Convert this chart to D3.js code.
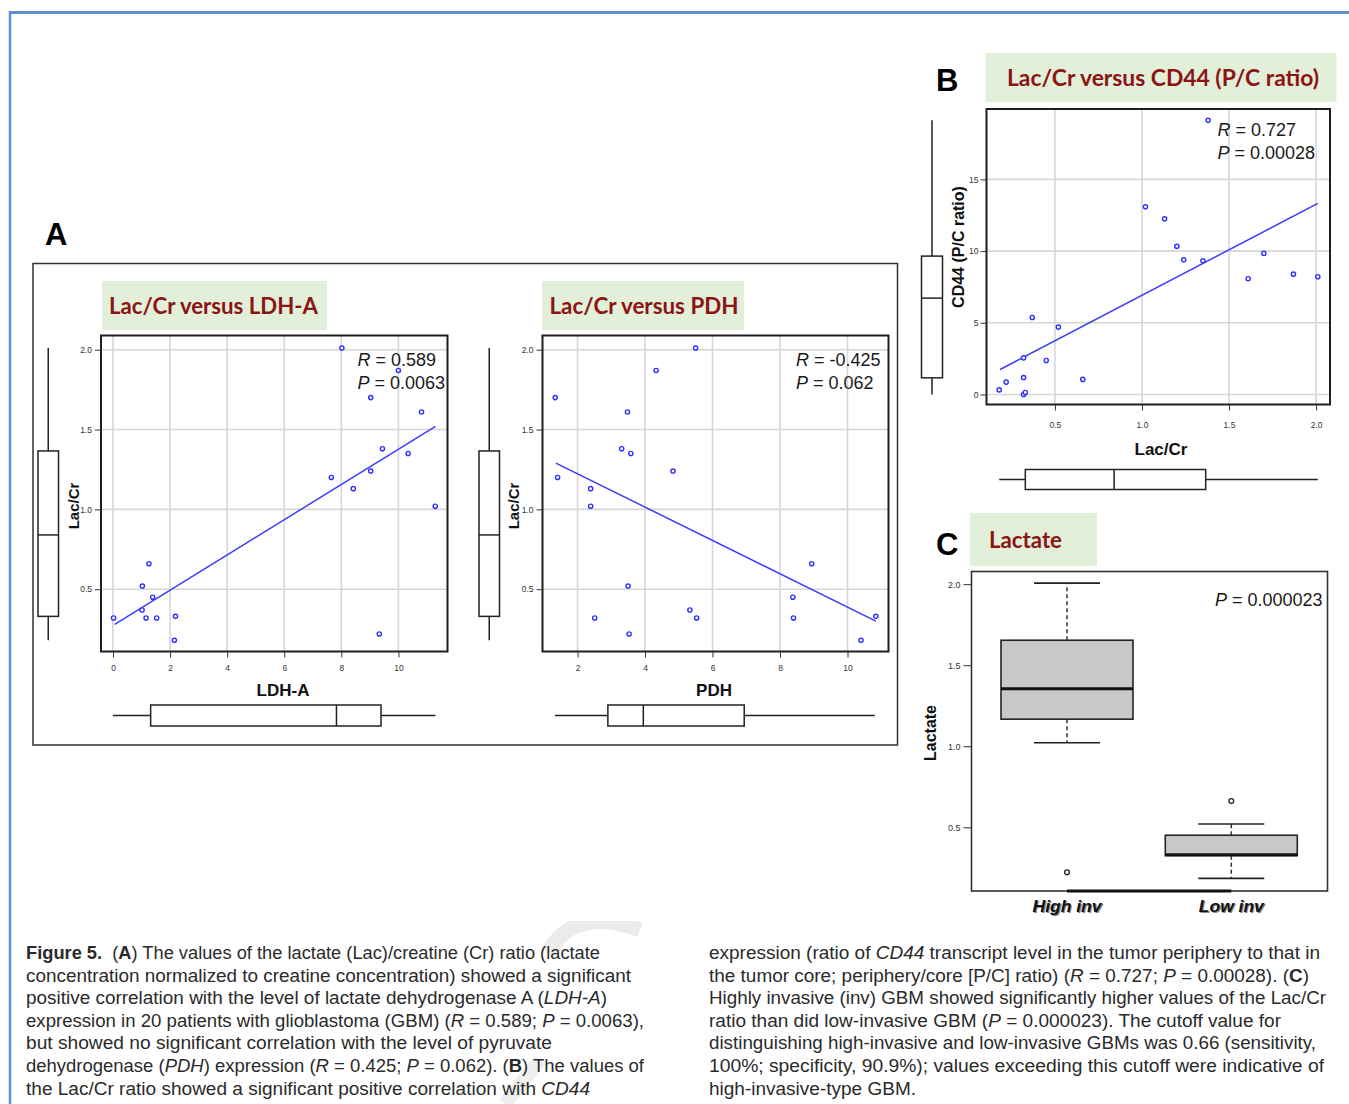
<!DOCTYPE html>
<html><head><meta charset="utf-8">
<script src="https://cdn.jsdelivr.net/npm/d3@7"></script>
<style>body{margin:0;background:#fff} svg{display:block}</style>
</head><body>
<svg id="fig" width="1349" height="1104"></svg>
<script>
// ---------- DATA ----------
// Panel A (left): Lac/Cr vs LDH-A
const ldhA   = [0.02,1.02,1.03,1.26,1.16,1.39,1.53,2.19,2.15,7.65,8.02,8.42,9.03,9.03,9.33,9.44,10.0,10.34,10.81,11.29];
const lacCrA = [0.32,0.37,0.52,0.66,0.32,0.45,0.32,0.33,0.18,1.20,2.01,1.13,1.70,1.24,0.22,1.38,1.87,1.35,1.61,1.02];
const ldhFitX = [0.06, 11.3], ldhFitY = [0.28, 1.52];
// Panel A (right): Lac/Cr vs PDH
const pdh    = [1.34,1.41,2.39,2.39,2.51,3.31,3.48,3.58,3.50,3.53,4.33,4.83,5.33,5.50,5.53,8.38,8.40,8.94,10.40,10.84];
const lacCrP = [1.70,1.20,1.13,1.02,0.32,1.38,1.61,1.35,0.52,0.22,1.87,1.24,0.37,2.01,0.32,0.45,0.32,0.66,0.18,0.33];
const pdhFitX = [1.36, 10.84], pdhFitY = [1.29, 0.30];
// Panel B: CD44 (P/C ratio) vs Lac/Cr
const lacCrB = [0.18,0.22,0.32,0.32,0.32,0.33,0.37,0.45,0.52,0.66,1.02,1.13,1.20,1.24,1.35,1.38,1.61,1.70,1.87,2.01];
const cd44   = [0.32,0.86,2.55,1.18,0.0,0.14,5.37,2.37,4.70,1.05,13.09,12.25,10.33,9.39,9.32,19.12,8.07,9.84,8.39,8.21];
const cd44FitX = [0.185, 2.01], cd44FitY = [1.74, 13.33];
// marginal box plots [min, q1, median, q3, max]
const lacCrBox = [0.18, 0.33, 0.84, 1.366, 2.01];
const ldhBox   = [0.0, 1.32, 7.83, 9.39, 11.3];
const pdhBox   = [1.33, 2.90, 3.95, 6.94, 10.81];
const cd44Box  = [0.0, 1.16, 6.72, 9.65, 19.12];
// Panel C: Lactate by invasiveness
const invGroups   = ["High inv", "Low inv"];
const invBoxes    = [[1.022, 1.167, 1.354, 1.654, 2.006], [0.185, 0.325, 0.33, 0.451, 0.52]];
const invOutliers = [[0.222], [0.662]];
// tick values
const ldhTicks = [0, 2, 4, 6, 8, 10];
const pdhTicks = [2, 4, 6, 8, 10];
const lacTicks = [0.5, 1.0, 1.5, 2.0];
const lacTicksB = [0.5, 1.0, 1.5, 2.0];
const cd44Ticks = [0, 5, 10, 15];
// caption
const capLeft = [
  "**Figure 5.**\u00a0 (**A**) The values of the lactate (Lac)/creatine (Cr) ratio (lactate",
  "concentration normalized to creatine concentration) showed a significant",
  "positive correlation with the level of lactate dehydrogenase A (_LDH-A_)",
  "expression in 20 patients with glioblastoma (GBM) (_R_ = 0.589; _P_ = 0.0063),",
  "but showed no significant correlation with the level of pyruvate",
  "dehydrogenase (_PDH_) expression (_R_ = 0.425; _P_ = 0.062). (**B**) The values of",
  "the Lac/Cr ratio showed a significant positive correlation with _CD44_"
];
const capRight = [
  "expression (ratio of _CD44_ transcript level in the tumor periphery to that in",
  "the tumor core; periphery/core [P/C] ratio) (_R_ = 0.727; _P_ = 0.00028). (**C**)",
  "Highly invasive (inv) GBM showed significantly higher values of the Lac/Cr",
  "ratio than did low-invasive GBM (_P_ = 0.000023). The cutoff value for",
  "distinguishing high-invasive and low-invasive GBMs was 0.66 (sensitivity,",
  "100%; specificity, 90.9%); values exceeding this cutoff were indicative of",
  "high-invasive-type GBM."
];
const capLeftW  = [574, 605, 581, 618, 526, 618, 564];
const capRightW = [611, 600, 617, 572, 607, 615, 207];

// ---------- DRAWING ----------
const F = "'Liberation Sans', Arial, Helvetica, sans-serif";
const TF = "Lato, 'Open Sans', sans-serif";
const svg = d3.select('#fig');
const ptColor = '#2f2fff';

// faint watermark strokes behind the caption (only visible below the figure)
svg.append('path').attr('d', 'M548,952 Q575,905 640,930').attr('fill', 'none')
  .attr('stroke', '#ebebeb').attr('stroke-width', 15);
svg.append('path').attr('d', 'M505,1104 L540,1060').attr('fill', 'none')
  .attr('stroke', '#efefef').attr('stroke-width', 14);
svg.append('rect').attr('x', 540).attr('y', 880).attr('width', 120).attr('height', 41).attr('fill', '#fff');

// blue page border
svg.append('line').attr('x1', 10).attr('x2', 1349).attr('y1', 12.5).attr('y2', 12.5).attr('stroke', '#5b8fd1').attr('stroke-width', 3);
svg.append('line').attr('x1', 10).attr('x2', 10).attr('y1', 11).attr('y2', 1104).attr('stroke', '#5b8fd1').attr('stroke-width', 2.5);

// panel A frame
svg.append('rect').attr('x', 33).attr('y', 263.5).attr('width', 864.5).attr('height', 481.5)
  .attr('fill', 'none').attr('stroke', '#333').attr('stroke-width', 1.5);

function panelLetter(t, x, y) {
  svg.append('text').attr('x', x).attr('y', y).attr('font-family', F).attr('font-weight', 'bold')
    .attr('font-size', 31).attr('fill', '#000').text(t);
}
panelLetter('A', 45, 245); panelLetter('B', 936, 91); panelLetter('C', 936, 555);

function titleBox(t, r, tx, tb, tw) {
  svg.append('rect').attr('x', r[0]).attr('y', r[1]).attr('width', r[2] - r[0]).attr('height', r[3] - r[1]).attr('fill', '#e2efd9');
  svg.append('text').attr('x', tx).attr('y', tb).attr('font-family', TF).attr('font-weight', 'bold')
    .attr('font-size', 23).attr('fill', '#8c1414').attr('textLength', tw).attr('lengthAdjust', 'spacingAndGlyphs').text(t);
}
titleBox('Lac/Cr versus LDH-A', [102, 281, 327, 330], 109, 314, 209);
titleBox('Lac/Cr versus PDH', [542, 281, 744, 330], 549.5, 314, 189);
titleBox('Lac/Cr versus CD44 (P/C ratio)', [985.5, 53, 1336.5, 102], 1007, 86, 312);
titleBox('Lactate', [970, 513, 1097, 566], 989, 548, 73);

function boxV(g, y, s, l, r) {
  const cx = (l + r) / 2;
  g.append('line').attr('x1', cx).attr('x2', cx).attr('y1', y(s[4])).attr('y2', y(s[3])).attr('stroke', '#222').attr('stroke-width', 1.5);
  g.append('line').attr('x1', cx).attr('x2', cx).attr('y1', y(s[1])).attr('y2', y(s[0])).attr('stroke', '#222').attr('stroke-width', 1.5);
  g.append('rect').attr('x', l).attr('width', r - l).attr('y', y(s[3])).attr('height', y(s[1]) - y(s[3]))
    .attr('fill', '#fff').attr('stroke', '#222').attr('stroke-width', 1.5);
  g.append('line').attr('x1', l).attr('x2', r).attr('y1', y(s[2])).attr('y2', y(s[2])).attr('stroke', '#222').attr('stroke-width', 1.5);
}
function boxH(g, x, s, t, b) {
  const cy = (t + b) / 2;
  g.append('line').attr('y1', cy).attr('y2', cy).attr('x1', x(s[0])).attr('x2', x(s[1])).attr('stroke', '#222').attr('stroke-width', 1.5);
  g.append('line').attr('y1', cy).attr('y2', cy).attr('x1', x(s[3])).attr('x2', x(s[4])).attr('stroke', '#222').attr('stroke-width', 1.5);
  g.append('rect').attr('y', t).attr('height', b - t).attr('x', x(s[1])).attr('width', x(s[3]) - x(s[1]))
    .attr('fill', '#fff').attr('stroke', '#222').attr('stroke-width', 1.5);
  g.append('line').attr('y1', t).attr('y2', b).attr('x1', x(s[2])).attr('x2', x(s[2])).attr('stroke', '#222').attr('stroke-width', 1.5);
}
function styleAxis(s, fs) {
  s.select('.domain').remove();
  s.selectAll('text').attr('font-family', F).attr('font-size', fs).attr('fill', '#333');
  s.selectAll('line').attr('stroke', '#333').attr('stroke-width', 1);
}
function statText(g, x, y, parts, anchor) {
  const t = g.append('text').attr('x', x).attr('y', y).attr('font-family', F).attr('font-size', 18).attr('fill', '#1a1a1a');
  if (anchor) t.attr('text-anchor', anchor);
  t.append('tspan').attr('font-style', 'italic').text(parts[0]);
  t.append('tspan').text(parts[1]);
}

function scatter(p) {
  const g = svg.append('g');
  const [L, T, R, B] = p.rect;
  const x = d3.scaleLinear().domain(p.xDomain).range([L, R]);
  const y = d3.scaleLinear().domain(p.yDomain).range([B, T]);
  g.selectAll(null).data(p.xTicks).join('line').attr('x1', d => x(d)).attr('x2', d => x(d)).attr('y1', T).attr('y2', B)
    .attr('stroke', '#d6d6d6').attr('stroke-width', 1.6);
  g.selectAll(null).data(p.yTicks).join('line').attr('y1', d => y(d)).attr('y2', d => y(d)).attr('x1', L).attr('x2', R)
    .attr('stroke', '#d6d6d6').attr('stroke-width', 1.6);
  g.append('rect').attr('x', L).attr('y', T).attr('width', R - L).attr('height', B - T)
    .attr('fill', 'none').attr('stroke', '#1e1e1e').attr('stroke-width', 2);
  g.append('g').attr('transform', `translate(0,${B})`)
    .call(d3.axisBottom(x).tickValues(p.xTicks).tickSize(6).tickPadding(p.xPad).tickFormat(p.xFmt))
    .call(s => styleAxis(s, p.tickFs));
  g.append('g').attr('transform', `translate(${L},0)`)
    .call(d3.axisLeft(y).tickValues(p.yTicks).tickSize(6).tickPadding(p.yPad).tickFormat(p.yFmt))
    .call(s => styleAxis(s, p.tickFs));
  g.append('line').attr('x1', x(p.fitX[0])).attr('x2', x(p.fitX[1])).attr('y1', y(p.fitY[0])).attr('y2', y(p.fitY[1]))
    .attr('stroke', '#3c3cff').attr('stroke-width', 1.5);
  g.selectAll(null).data(p.xs).join('circle').attr('cx', d => x(d)).attr('cy', (d, i) => y(p.ys[i])).attr('r', 2.1)
    .attr('fill', '#fff').attr('stroke', ptColor).attr('stroke-width', 1.4);
  boxV(g, y, p.yBox, p.yBoxX[0], p.yBoxX[1]);
  boxH(g, x, p.xBox, p.xBoxY[0], p.xBoxY[1]);
  g.append('text').attr('transform', `translate(${p.yLab[0]},${p.yLab[1]}) rotate(-90)`).attr('text-anchor', 'middle')
    .attr('dominant-baseline', 'central').attr('font-family', F).attr('font-weight', 'bold').attr('font-size', p.yLabFs)
    .attr('fill', '#111').text(p.yLabel);
  g.append('text').attr('x', p.xLab[0]).attr('y', p.xLab[1]).attr('text-anchor', 'middle')
    .attr('dominant-baseline', 'central').attr('font-family', F).attr('font-weight', 'bold').attr('font-size', p.xLabFs)
    .attr('fill', '#111').text(p.xLabel);
  statText(g, p.stat[0], p.stat[1], p.stat1);
  statText(g, p.stat[0], p.stat[1] + 23, p.stat2);
}

const f1 = d3.format('.1f'), f0 = d3.format('d');
scatter({ xs: ldhA, ys: lacCrA, rect: [101, 335.5, 447.5, 651.5], xDomain: [-0.42, 11.72], yDomain: [0.11, 2.089],
  xTicks: ldhTicks, yTicks: lacTicks, xFmt: f0, yFmt: f1, tickFs: 8.5, xPad: 7.5, yPad: 3,
  fitX: ldhFitX, fitY: ldhFitY, yBox: lacCrBox, yBoxX: [38, 58.5], xBox: ldhBox, xBoxY: [705, 726],
  yLabel: 'Lac/Cr', yLab: [73, 506], yLabFs: 15, xLabel: 'LDH-A', xLab: [283, 690], xLabFs: 17,
  stat: [357.5, 366], stat1: ['R', ' = 0.589'], stat2: ['P', ' = 0.0063'] });
scatter({ xs: pdh, ys: lacCrP, rect: [542.5, 335.5, 888.5, 651.5], xDomain: [0.963, 11.215], yDomain: [0.11, 2.089],
  xTicks: pdhTicks, yTicks: lacTicks, xFmt: f0, yFmt: f1, tickFs: 8.5, xPad: 7.5, yPad: 3,
  fitX: pdhFitX, fitY: pdhFitY, yBox: lacCrBox, yBoxX: [479, 499.5], xBox: pdhBox, xBoxY: [705, 726],
  yLabel: 'Lac/Cr', yLab: [513, 506], yLabFs: 15, xLabel: 'PDH', xLab: [714, 690], xLabFs: 17,
  stat: [796, 366], stat1: ['R', ' = -0.425'], stat2: ['P', ' = 0.062'] });
scatter({ xs: lacCrB, ys: cd44, rect: [986.5, 109, 1330, 404.5], xDomain: [0.107, 2.080], yDomain: [-0.70, 19.91],
  xTicks: lacTicksB, yTicks: cd44Ticks, xFmt: f1, yFmt: f0, tickFs: 8.5, xPad: 11, yPad: 2,
  fitX: cd44FitX, fitY: cd44FitY, yBox: cd44Box, yBoxX: [921.5, 942.5], xBox: lacCrBox, xBoxY: [469.5, 489.5],
  yLabel: 'CD44 (P/C ratio)', yLab: [958, 247], yLabFs: 16, xLabel: 'Lac/Cr', xLab: [1161, 449], xLabFs: 17,
  stat: [1217.5, 136], stat1: ['R', ' = 0.727'], stat2: ['P', ' = 0.00028'] });

// Panel C
(function () {
  const g = svg.append('g');
  const L = 971.5, T = 571.5, R = 1327.5, B = 891;
  const y = d3.scaleLinear().domain([0.107, 2.078]).range([B, T]);
  const x = d3.scalePoint().domain(invGroups).range([1067, 1231.3]);
  const hw = 66, cw = 33;
  g.append('rect').attr('x', L).attr('y', T).attr('width', R - L).attr('height', B - T)
    .attr('fill', 'none').attr('stroke', '#333').attr('stroke-width', 1.6);
  g.append('line').attr('x1', x(invGroups[0])).attr('x2', x(invGroups[1])).attr('y1', B).attr('y2', B)
    .attr('stroke', '#111').attr('stroke-width', 3);
  g.append('g').attr('transform', `translate(${L},0)`)
    .call(d3.axisLeft(y).tickValues(lacTicks).tickSize(8).tickPadding(3).tickFormat(f1))
    .call(s => styleAxis(s, 9));
  invGroups.forEach((c, i) => {
    const s = invBoxes[i], cx = x(c);
    [[s[3], s[4]], [s[1], s[0]]].forEach(([a, b]) => {
      g.append('line').attr('x1', cx).attr('x2', cx).attr('y1', y(a)).attr('y2', y(b))
        .attr('stroke', '#333').attr('stroke-width', 1.5).attr('stroke-dasharray', '4,3');
    });
    [s[0], s[4]].forEach(v => {
      g.append('line').attr('x1', cx - cw).attr('x2', cx + cw).attr('y1', y(v)).attr('y2', y(v))
        .attr('stroke', '#222').attr('stroke-width', 1.6);
    });
    g.append('rect').attr('x', cx - hw).attr('width', 2 * hw).attr('y', y(s[3])).attr('height', y(s[1]) - y(s[3]))
      .attr('fill', '#c8c8c8').attr('stroke', '#222').attr('stroke-width', 1.6);
    g.append('line').attr('x1', cx - hw).attr('x2', cx + hw).attr('y1', y(s[2])).attr('y2', y(s[2]))
      .attr('stroke', '#111').attr('stroke-width', 3);
    g.selectAll(null).data(invOutliers[i]).join('circle').attr('cx', cx).attr('cy', d => y(d)).attr('r', 2.4)
      .attr('fill', '#fff').attr('stroke', '#222').attr('stroke-width', 1.3);
    [['#888', 1.2], ['#111', 0]].forEach(([col, off]) => {
      g.append('text').attr('x', cx + off).attr('y', 912 + off).attr('text-anchor', 'middle')
        .attr('font-family', F).attr('font-weight', 'bold').attr('font-style', 'italic').attr('font-size', 17)
        .attr('fill', col).attr('textLength', i === 0 ? 69 : 65).attr('lengthAdjust', 'spacingAndGlyphs').text(c);
    });
  });
  g.append('text').attr('transform', 'translate(930,733) rotate(-90)').attr('text-anchor', 'middle')
    .attr('dominant-baseline', 'central').attr('font-family', F).attr('font-weight', 'bold').attr('font-size', 16)
    .attr('fill', '#111').text('Lactate');
  statText(g, 1322.5, 606, ['P', ' = 0.000023'], 'end');
})();

// caption
function captionLine(str, x, y, w) {
  const t = svg.append('text').attr('x', x).attr('y', y).attr('font-family', F).attr('font-size', 17.5)
    .attr('fill', '#2a2a2a').attr('textLength', w).attr('lengthAdjust', 'spacingAndGlyphs');
  str.split(/(\*\*[^*]+\*\*|_[^_]+_)/).filter(s => s.length).forEach(seg => {
    const ts = t.append('tspan');
    if (seg.startsWith('**')) ts.attr('font-weight', 'bold').text(seg.slice(2, -2));
    else if (seg.startsWith('_')) ts.attr('font-style', 'italic').text(seg.slice(1, -1));
    else ts.text(seg);
  });
}
const capY = [959, 981.6, 1004.2, 1026.8, 1049.4, 1072, 1094.6];
capLeft.forEach((s, i) => captionLine(s, 26, capY[i], capLeftW[i]));
capRight.forEach((s, i) => captionLine(s, 709, capY[i], capRightW[i]));
</script>
</body></html>
